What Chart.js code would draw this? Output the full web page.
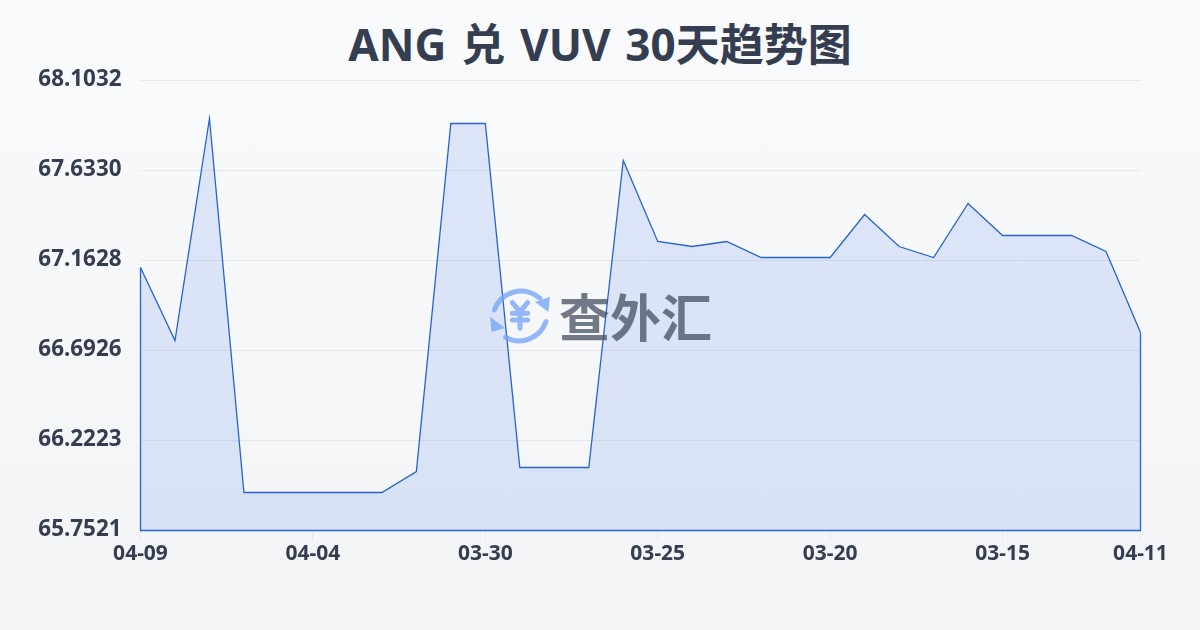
<!DOCTYPE html>
<html>
<head>
<meta charset="utf-8">
<style>
  html, body { margin: 0; padding: 0; }
  body { width: 1200px; height: 630px; overflow: hidden; position: relative;
         background: linear-gradient(180deg, #f9fafc 0%, #f2f4f6 100%); }
  #title { position: absolute; left: 0; top: 14px; width: 1200px; text-align: center; margin: 0;
           font: 700 44px/60px "Noto Sans", "Noto Sans CJK SC", sans-serif; word-spacing: 3.4px; color: #343e50; }
  #mark { position: absolute; left: 485px; top: 280px; width: 235px; height: 70px; opacity: 0.78; }
  #mark svg { position: absolute; left: 0; top: 0; }
  #mark span { position: absolute; left: 74px; top: 4px; font: 700 51px/62px "Noto Sans CJK SC", sans-serif;
               color: #4c5567; white-space: nowrap; }
  canvas { position: absolute; left: 0; top: 0; }
</style>
</head>
<body>
<h1 id="title">ANG 兑 VUV 30天趋势图</h1>
<canvas id="chart" width="1200" height="630"></canvas>
<div id="mark">
  <svg width="75" height="70" viewBox="0 0 225 210" fill="none" stroke="#77a5f8" stroke-width="15" stroke-linecap="round">
    <path d="M28 90 A85 85 0 0 1 165 55"/>
    <path d="M183 125 A85 85 0 0 1 62 172"/>
    <path d="M82 68 L105 95 L128 68 M105 95 V145 M82 100 H128 M82 120 H128"/>
    <path d="M150 66 L195 50 L190 96 Z" fill="#77a5f8" stroke="none"/>
    <path d="M15 110 L20 156 L60 144 Z" fill="#77a5f8" stroke="none"/>
  </svg>
  <span>查外汇</span>
</div>
<script src="https://cdn.jsdelivr.net/npm/chart.js@4"></script>
<script>
// --- DATA ---
const dateLabels = ['04-09','04-08','04-07','04-06','04-05','04-04','04-03','04-02','04-01','03-31',
                    '03-30','03-29','03-28','03-27','03-26','03-25','03-24','03-23','03-22','03-21',
                    '03-20','03-19','03-18','03-17','03-16','03-15','03-14','03-13','03-12','04-11'];
const rateValues = [67.1262,66.7448,67.9047,65.9506,65.9506,65.9506,65.9506,65.9506,66.0604,67.8785,
                    67.8785,66.0812,66.0812,66.0812,67.6852,67.2620,67.2359,67.2620,67.1784,67.1784,
                    67.1784,67.4031,67.2359,67.1784,67.4606,67.2934,67.2934,67.2934,67.2098,66.7866];
const yTicks = [65.7521,66.2223,66.6926,67.1628,67.6330,68.1032];
const shownDates = ['04-09','04-04','03-30','03-25','03-20','03-15','04-11'];

const FONT = '"Noto Sans", "Noto Sans CJK SC", sans-serif';
const LINE_COLOR = '#2563d0';
const TEXT_COLOR = '#343e50';

// closes the area outline: both sides and the base
const outlinePlugin = {
    id: 'outline',
    afterDatasetsDraw(chart) {
        const x = chart.scales.x, y = chart.scales.y, ctx = chart.ctx;
        const last = rateValues.length - 1;
        ctx.save();
        ctx.strokeStyle = LINE_COLOR;
        ctx.lineWidth = 1.3;
        ctx.beginPath();
        ctx.moveTo(x.getPixelForValue(0), y.getPixelForValue(rateValues[0]));
        ctx.lineTo(x.getPixelForValue(0), y.getPixelForValue(yTicks[0]));
        ctx.lineTo(x.getPixelForValue(last), y.getPixelForValue(yTicks[0]));
        ctx.lineTo(x.getPixelForValue(last), y.getPixelForValue(rateValues[last]));
        ctx.stroke();
        ctx.restore();
    }
};

new Chart(document.getElementById('chart'), {
    type: 'line',
    plugins: [outlinePlugin],
    data: {
        labels: dateLabels,
        datasets: [{
            data: rateValues,
            borderColor: LINE_COLOR,
            borderWidth: 1.3,
            backgroundColor: 'rgba(37, 99, 235, 0.13)',
            fill: 'start',
            tension: 0,
            pointRadius: 0
        }]
    },
    options: {
        responsive: false,
        animation: false,
        layout: { padding: { left: 0.5, right: 59.5, top: 80.5, bottom: 59.5 } },
        plugins: {
            legend: { display: false },
            tooltip: { enabled: false }
        },
        scales: {
            x: {
                offset: false,
                border: { display: false },
                grid: { drawOnChartArea: false, drawTicks: true, tickLength: 10, color: '#e5e7eb' },
                ticks: {
                    autoSkip: false,
                    maxRotation: 0,
                    padding: 1,
                    color: TEXT_COLOR,
                    font: { family: FONT, size: 21, weight: '700' },
                    callback(value, index) {
                        const label = dateLabels[index];
                        return shownDates.includes(label) ? label : null;
                    }
                },
                afterFit(scale) { scale.height = 40; }
            },
            y: {
                min: yTicks[0],
                max: yTicks[yTicks.length - 1],
                border: { display: false },
                grid: { drawTicks: false, color: '#e5e7eb' },
                afterBuildTicks(scale) { scale.ticks = yTicks.map(v => ({ value: v })); },
                afterFit(scale) { scale.width = 140; },
                ticks: {
                    padding: 19,
                    labelOffset: -0.5,
                    color: TEXT_COLOR,
                    font: { family: FONT, size: 22.4, weight: '700' },
                    callback(value) { return value.toFixed(4); }
                }
            }
        }
    }
});
</script>
</body>
</html>
